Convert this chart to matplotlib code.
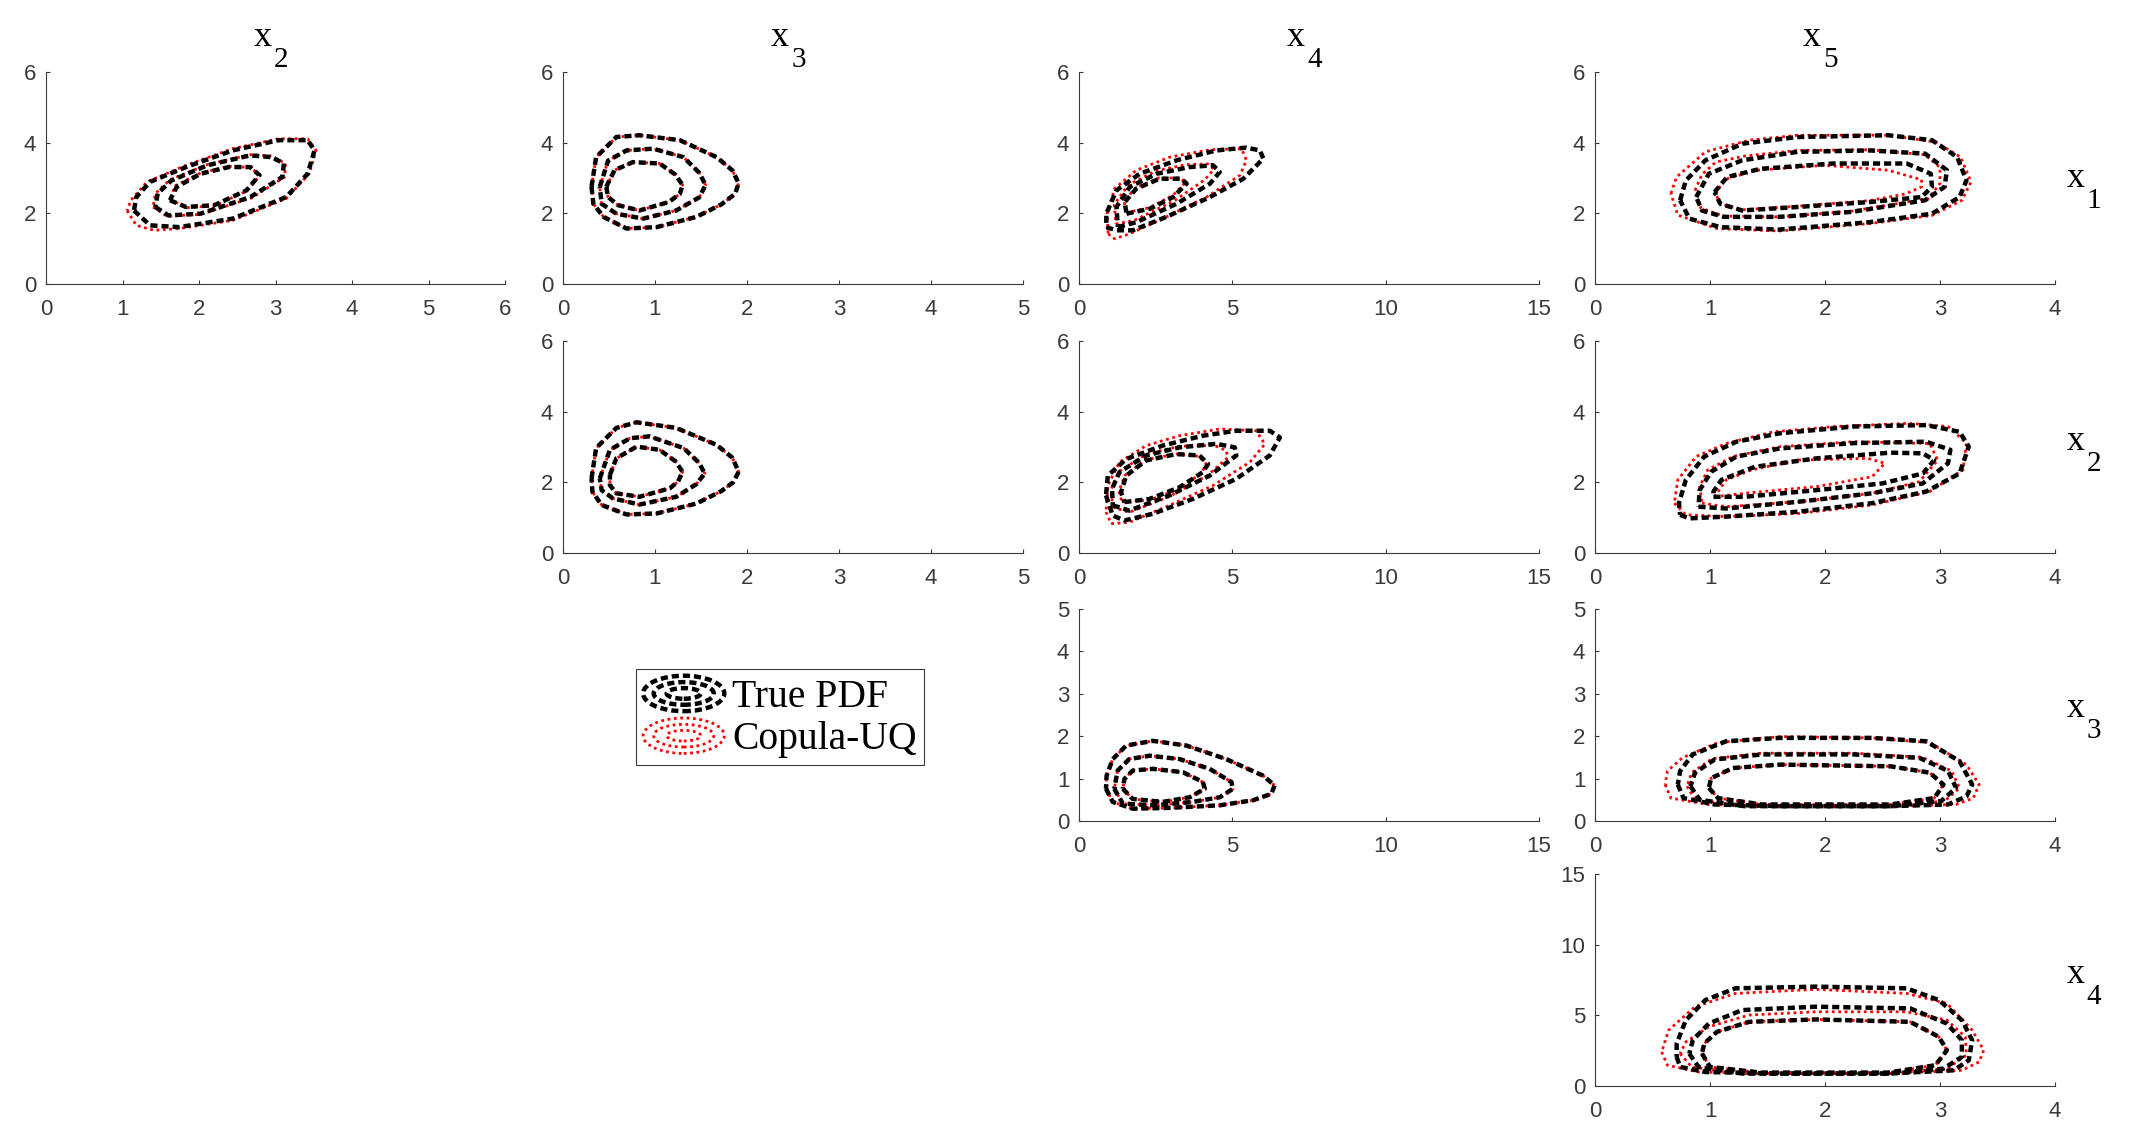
import matplotlib
matplotlib.use('Agg')
import matplotlib.pyplot as plt
from matplotlib.patches import Ellipse
from matplotlib.lines import Line2D
from matplotlib.legend_handler import HandlerBase
import numpy as np

W, H = 2132, 1146

# variable names of the grid
col_names = ['2', '3', '4', '5']
row_names = ['1', '2', '3', '4']

# axis ranges
col_xmax = [6, 5, 15, 4]
col_xstep = [1, 1, 5, 1]
row_ymax = [6, 6, 5, 15]
row_ystep = [2, 2, 1, 5]

# contour rings (outer, middle, inner), as (x, y) points
# row x1 / col x2
x1_x2_true = [
    [(1.15, 2.08), (1.36, 1.66), (1.74, 1.61), (2.44, 1.85), (3.14, 2.46), (3.42, 3.12), (3.51, 3.78),
     (3.42, 4.07), (3.04, 4.07), (2.44, 3.78), (1.83, 3.31), (1.36, 2.89), (1.18, 2.46)],
    [(1.43, 2.18), (1.60, 1.94), (2.02, 1.99), (2.67, 2.46), (3.09, 3.03), (3.11, 3.41), (2.95, 3.59),
     (2.67, 3.64), (2.11, 3.36), (1.64, 2.93), (1.46, 2.56)],
    [(1.62, 2.37), (1.83, 2.18), (2.20, 2.23), (2.62, 2.65), (2.79, 3.08), (2.67, 3.31), (2.39, 3.31),
     (2.02, 3.12), (1.71, 2.75)],
]
x1_x2_copula = [
    [(1.06, 2.08), (1.18, 1.66), (1.41, 1.52), (1.74, 1.57), (2.44, 1.80), (3.14, 2.42), (3.44, 3.12),
     (3.53, 3.78), (3.42, 4.11), (3.04, 4.11), (2.44, 3.83), (1.83, 3.36), (1.32, 2.89), (1.11, 2.37)],
    [(1.40, 2.18), (1.58, 1.92), (2.02, 1.97), (2.69, 2.44), (3.12, 3.03), (3.13, 3.41), (2.95, 3.62),
     (2.67, 3.66), (2.11, 3.38), (1.62, 2.95), (1.43, 2.56)],
    [(1.62, 2.40), (1.83, 2.16), (2.20, 2.21), (2.62, 2.63), (2.80, 3.08), (2.67, 3.30), (2.39, 3.33),
     (2.02, 3.14), (1.69, 2.78)],
]

# row x1 / col x3
x1_x3_true = [
    [(0.31, 2.75), (0.36, 3.59), (0.58, 4.16), (0.83, 4.21), (1.27, 4.07), (1.67, 3.59), (1.84, 3.22),
     (1.91, 2.85), (1.87, 2.55), (1.72, 2.25), (1.45, 1.90), (1.02, 1.61), (0.69, 1.57), (0.44, 1.90),
     (0.33, 2.27)],
    [(0.40, 2.75), (0.49, 3.49), (0.69, 3.78), (0.98, 3.83), (1.31, 3.59), (1.48, 3.15), (1.55, 2.80),
     (1.48, 2.45), (1.23, 2.08), (0.87, 1.85), (0.58, 1.99), (0.42, 2.27)],
    [(0.47, 2.75), (0.56, 3.22), (0.76, 3.45), (1.05, 3.41), (1.22, 3.10), (1.30, 2.80), (1.27, 2.55),
     (1.15, 2.32), (0.83, 2.08), (0.60, 2.23), (0.49, 2.46)],
]
x1_x3_copula = x1_x3_true

# row x1 / col x4
x1_x4_true = [
    [(0.89, 1.61), (1.22, 1.52), (1.76, 1.52), (2.85, 1.90), (4.27, 2.46), (5.36, 2.98), (6.01, 3.55),
     (5.90, 3.78), (5.46, 3.86), (4.48, 3.78), (3.18, 3.50), (1.98, 3.12), (1.22, 2.65), (0.89, 1.99)],
    [(1.27, 1.61), (1.87, 1.75), (3.18, 2.27), (4.27, 2.84), (4.59, 3.17), (4.37, 3.36), (3.61, 3.31),
     (2.53, 3.12), (1.66, 2.75), (1.22, 2.18)],
    [(1.55, 1.99), (2.31, 2.13), (3.07, 2.46), (3.51, 2.84), (3.34, 2.98), (2.63, 2.98), (1.87, 2.70),
     (1.49, 2.32)],
]
x1_x4_copula = [
    [(0.95, 1.42), (1.16, 1.28), (1.65, 1.42), (2.85, 1.90), (4.16, 2.46), (5.25, 3.08), (5.46, 3.50),
     (5.30, 3.83), (4.27, 3.80), (2.96, 3.59), (1.87, 3.22), (1.16, 2.70), (0.92, 1.99)],
    [(1.20, 1.70), (1.80, 1.80), (3.10, 2.35), (4.10, 2.95), (4.40, 3.25), (4.20, 3.40), (3.50, 3.38),
     (2.50, 3.20), (1.60, 2.80), (1.15, 2.25)],
    [(1.55, 2.02), (2.30, 2.16), (3.05, 2.50), (3.48, 2.88), (3.30, 3.00), (2.60, 3.00), (1.85, 2.72),
     (1.47, 2.35)],
]

# row x1 / col x5
x1_x5_true = [
    [(0.74, 2.37), (0.79, 2.93), (0.96, 3.50), (1.28, 3.97), (1.76, 4.16), (2.55, 4.21), (2.93, 4.07),
     (3.15, 3.59), (3.23, 2.93), (3.17, 2.46), (2.93, 1.99), (2.39, 1.75), (1.60, 1.54), (1.09, 1.61),
     (0.82, 1.85)],
    [(0.88, 2.46), (0.99, 3.12), (1.28, 3.50), (1.76, 3.74), (2.39, 3.78), (2.87, 3.69), (3.06, 3.22),
     (3.04, 2.75), (2.87, 2.37), (2.23, 2.04), (1.60, 1.90), (1.12, 1.90), (0.93, 2.08)],
    [(1.04, 2.60), (1.15, 3.03), (1.44, 3.26), (2.07, 3.41), (2.71, 3.41), (2.92, 3.12), (2.93, 2.75),
     (2.84, 2.46), (2.39, 2.32), (1.76, 2.18), (1.28, 2.08), (1.09, 2.27)],
]
x1_x5_copula = [
    [(0.66, 2.56), (0.71, 3.03), (0.96, 3.74), (1.34, 4.07), (1.76, 4.21), (2.55, 4.21), (2.96, 4.02),
     (3.18, 3.59), (3.27, 2.89), (3.19, 2.37), (2.93, 1.94), (2.39, 1.71), (1.60, 1.50), (1.06, 1.57),
     (0.72, 1.95)],
    [(0.87, 2.65), (0.93, 3.10), (1.05, 3.45), (1.30, 3.62), (1.76, 3.78), (2.39, 3.80), (2.87, 3.66),
     (3.00, 3.30), (3.00, 2.85), (2.90, 2.42), (2.23, 2.06), (1.60, 1.90), (1.12, 1.92), (0.92, 2.15)],
    [(1.05, 2.55), (1.12, 2.95), (1.40, 3.22), (2.00, 3.36), (2.55, 3.22), (2.84, 2.95), (2.84, 2.75),
     (2.70, 2.55), (2.39, 2.36), (1.76, 2.20), (1.28, 2.10), (1.09, 2.27)],
]

# row x2 / col x3
x2_x3_true = [
    [(0.31, 2.11), (0.36, 2.97), (0.58, 3.54), (0.80, 3.70), (1.23, 3.54), (1.67, 3.06), (1.84, 2.70),
     (1.91, 2.30), (1.85, 2.00), (1.72, 1.75), (1.45, 1.40), (1.02, 1.12), (0.69, 1.09), (0.42, 1.36),
     (0.32, 1.73)],
    [(0.40, 2.11), (0.51, 2.92), (0.73, 3.25), (0.94, 3.30), (1.31, 2.97), (1.48, 2.55), (1.54, 2.25),
     (1.45, 1.95), (1.23, 1.59), (0.83, 1.37), (0.54, 1.55), (0.42, 1.78)],
    [(0.51, 2.21), (0.58, 2.68), (0.80, 3.01), (1.05, 2.92), (1.22, 2.60), (1.30, 2.30), (1.25, 2.02),
     (1.16, 1.83), (0.83, 1.59), (0.58, 1.69), (0.51, 1.92)],
]
x2_x3_copula = x2_x3_true

# row x2 / col x4
x2_x4_true = [
    [(0.88, 1.63), (1.10, 1.06), (1.48, 0.92), (2.41, 1.11), (3.71, 1.53), (5.13, 2.10), (6.22, 2.76),
     (6.55, 3.27), (6.22, 3.46), (5.13, 3.46), (4.04, 3.32), (2.73, 3.04), (1.54, 2.66), (0.94, 2.19)],
    [(1.10, 1.35), (1.64, 1.20), (2.95, 1.63), (4.26, 2.19), (5.13, 2.76), (5.08, 2.99), (4.48, 3.09),
     (3.28, 2.99), (2.19, 2.76), (1.32, 2.29), (1.08, 1.82)],
    [(1.48, 1.44), (2.30, 1.53), (3.28, 1.86), (4.04, 2.29), (4.21, 2.52), (3.93, 2.76), (3.17, 2.80),
     (2.19, 2.62), (1.54, 2.19), (1.37, 1.72)],
]
x2_x4_copula = [
    [(0.88, 1.16), (1.05, 0.83), (1.64, 0.87), (2.95, 1.35), (4.37, 1.91), (5.57, 2.57), (6.06, 3.08),
     (5.78, 3.46), (4.59, 3.51), (3.28, 3.32), (2.19, 3.04), (1.32, 2.57), (0.94, 1.91)],
    [(1.10, 1.30), (1.64, 1.15), (2.95, 1.60), (4.20, 2.20), (4.85, 2.70), (4.80, 2.90), (4.40, 3.05),
     (3.28, 3.02), (2.19, 2.80), (1.30, 2.30), (1.05, 1.80)],
    [(1.40, 1.45), (2.30, 1.50), (3.28, 1.82), (4.00, 2.27), (4.15, 2.52), (3.90, 2.74), (3.17, 2.80),
     (2.19, 2.64), (1.50, 2.20), (1.30, 1.75)],
]

# row x2 / col x5
x2_x5_true = [
    [(0.74, 1.08), (0.82, 0.98), (1.14, 1.03), (1.77, 1.17), (2.41, 1.41), (2.88, 1.74), (3.17, 2.25),
     (3.25, 3.01), (3.17, 3.43), (2.88, 3.62), (2.25, 3.58), (1.61, 3.39), (1.23, 3.15), (0.95, 2.73),
     (0.79, 2.07), (0.73, 1.41)],
    [(0.90, 1.31), (1.14, 1.26), (1.77, 1.45), (2.41, 1.69), (2.85, 1.97), (3.07, 2.54), (3.09, 2.92),
     (2.88, 3.15), (2.25, 3.11), (1.61, 2.96), (1.23, 2.73), (1.01, 2.30), (0.91, 1.78)],
    [(1.03, 1.59), (1.30, 1.59), (1.93, 1.78), (2.50, 1.97), (2.85, 2.25), (2.95, 2.63), (2.85, 2.82),
     (2.57, 2.84), (1.93, 2.68), (1.39, 2.44), (1.10, 2.07), (1.03, 1.74)],
]
x2_x5_copula = [
    [(0.69, 1.41), (0.79, 1.08), (1.14, 1.03), (1.77, 1.12), (2.41, 1.36), (2.91, 1.74), (3.20, 2.35),
     (3.23, 3.11), (3.07, 3.58), (2.73, 3.67), (2.09, 3.58), (1.55, 3.43), (1.14, 3.10), (0.88, 2.73),
     (0.72, 2.07)],
    [(0.93, 1.41), (1.14, 1.31), (1.77, 1.45), (2.41, 1.69), (2.82, 2.02), (2.98, 2.63), (2.91, 3.10),
     (2.25, 3.15), (1.61, 3.01), (1.20, 2.73), (0.98, 2.35), (0.91, 1.88)],
    [(1.04, 1.59), (1.30, 1.69), (1.93, 1.88), (2.41, 2.16), (2.52, 2.54), (2.37, 2.68), (1.77, 2.63),
     (1.36, 2.35), (1.14, 2.07)],
]

# row x3 / col x4
x3_x4_true = [
    [(0.88, 0.76), (1.10, 0.45), (1.75, 0.29), (2.95, 0.31), (4.59, 0.37), (5.68, 0.49), (6.27, 0.64),
     (6.38, 0.84), (6.00, 1.07), (4.80, 1.46), (3.50, 1.78), (2.41, 1.89), (1.54, 1.78), (1.10, 1.46),
     (0.90, 1.07)],
    [(1.15, 0.76), (1.43, 0.41), (2.41, 0.37), (3.71, 0.45), (4.59, 0.56), (5.02, 0.76), (4.97, 0.92),
     (4.26, 1.23), (3.28, 1.46), (2.30, 1.54), (1.64, 1.46), (1.26, 1.19)],
    [(1.43, 0.76), (1.75, 0.52), (2.73, 0.45), (3.61, 0.56), (4.10, 0.76), (4.04, 0.92), (3.39, 1.15),
     (2.41, 1.23), (1.75, 1.19), (1.48, 0.99)],
]
x3_x4_copula = x3_x4_true

# row x3 / col x5
x3_x5_true = [
    [(0.72, 0.86), (0.77, 0.54), (1.04, 0.39), (1.61, 0.35), (2.57, 0.35), (3.07, 0.39), (3.23, 0.58),
     (3.28, 0.86), (3.17, 1.41), (2.88, 1.88), (2.41, 1.96), (1.61, 1.96), (1.14, 1.88), (0.85, 1.57),
     (0.74, 1.18)],
    [(0.83, 0.82), (0.91, 0.50), (1.30, 0.35), (2.57, 0.35), (3.01, 0.47), (3.14, 0.78), (3.07, 1.18),
     (2.82, 1.49), (2.25, 1.57), (1.45, 1.57), (1.04, 1.45), (0.87, 1.14)],
    [(0.99, 0.78), (1.07, 0.54), (1.45, 0.39), (2.57, 0.39), (2.95, 0.54), (3.03, 0.86), (2.91, 1.14),
     (2.57, 1.29), (1.61, 1.33), (1.20, 1.25), (1.01, 1.01)],
]
x3_x5_copula = [
    [(0.61, 0.86), (0.66, 0.54), (0.98, 0.39), (1.61, 0.35), (2.57, 0.35), (3.14, 0.39), (3.29, 0.54),
     (3.34, 0.86), (3.23, 1.33), (2.91, 1.85), (2.41, 1.96), (1.61, 1.99), (1.07, 1.85), (0.76, 1.49),
     (0.63, 1.18)],
    [(0.80, 0.82), (0.87, 0.50), (1.30, 0.35), (2.57, 0.35), (3.04, 0.47), (3.17, 0.78), (3.10, 1.18),
     (2.85, 1.50), (2.25, 1.60), (1.45, 1.60), (1.02, 1.47), (0.84, 1.14)],
    x3_x5_true[2],
]

# row x4 / col x5
x4_x5_true = [
    [(0.71, 2.06), (0.74, 1.35), (0.96, 0.99), (1.60, 0.88), (2.55, 0.88), (3.12, 1.11), (3.25, 1.82),
     (3.28, 3.24), (3.19, 4.66), (2.99, 6.08), (2.71, 6.91), (1.92, 7.03), (1.22, 6.91), (0.96, 6.08),
     (0.79, 4.66), (0.71, 3.00)],
    [(0.82, 2.29), (0.90, 1.35), (1.28, 0.88), (2.55, 0.88), (3.03, 1.23), (3.19, 2.06), (3.19, 3.24),
     (3.06, 4.42), (2.74, 5.49), (1.92, 5.61), (1.28, 5.37), (0.99, 4.42), (0.85, 3.24)],
    [(0.93, 2.29), (1.00, 1.35), (1.44, 0.95), (2.55, 0.95), (2.96, 1.47), (3.06, 2.53), (2.99, 3.48),
     (2.74, 4.54), (1.92, 4.71), (1.34, 4.54), (1.06, 3.83), (0.95, 3.00)],
]
x4_x5_copula = [
    [(0.58, 2.41), (0.63, 1.47), (0.90, 0.99), (1.60, 0.88), (2.55, 0.88), (3.19, 1.11), (3.34, 1.70),
     (3.38, 2.53), (3.28, 3.95), (3.06, 5.84), (2.71, 6.55), (1.92, 6.84), (1.22, 6.55), (0.87, 5.61),
     (0.64, 3.95)],
    [(0.74, 2.29), (0.84, 1.35), (1.28, 0.88), (2.55, 0.88), (3.06, 1.23), (3.23, 2.18), (3.22, 3.48),
     (3.06, 4.66), (2.71, 5.25), (1.92, 5.25), (1.34, 5.02), (0.99, 4.19), (0.79, 3.12)],
    x4_x5_true[2],
]

panels = {
    (0, 0): (x1_x2_true, x1_x2_copula),
    (0, 1): (x1_x3_true, x1_x3_copula),
    (0, 2): (x1_x4_true, x1_x4_copula),
    (0, 3): (x1_x5_true, x1_x5_copula),
    (1, 1): (x2_x3_true, x2_x3_copula),
    (1, 2): (x2_x4_true, x2_x4_copula),
    (1, 3): (x2_x5_true, x2_x5_copula),
    (2, 2): (x3_x4_true, x3_x4_copula),
    (2, 3): (x3_x5_true, x3_x5_copula),
    (3, 3): (x4_x5_true, x4_x5_copula),
}

# axes boxes in pixels
col_px = [(46, 505), (563, 1023), (1079, 1539), (1595, 2055)]
row_px = [(72, 284), (341, 553), (609, 821), (874, 1086)]
# baseline of the row label below the axes middle, in points
row_label_drop = [6.5, 2.5, 1.5, 2.5]

TRUE_STYLE = dict(color='black', lw=3.2, dashes=(1.6, 0.9))
COP_STYLE = dict(color='red', lw=2.0, dashes=(1.0, 1.3))
AX_COLOR = '#3a3a3a'
SERIF = 'Liberation Serif'

plt.rcParams['font.family'] = ['Liberation Sans', 'DejaVu Sans']

fig = plt.figure(figsize=(W / 100, H / 100), dpi=100)


def closed(ring):
    xs = [p[0] for p in ring] + [ring[0][0]]
    ys = [p[1] for p in ring] + [ring[0][1]]
    return xs, ys


def var_label(ax, xy, dx, dy, sub, sub_dx):
    # "x" with a big, low subscript (MATLAB style)
    ax.annotate('x', xy=xy, xycoords='axes fraction', xytext=(dx, dy),
                textcoords='offset points', family=SERIF, fontsize=26,
                ha='left', va='baseline', annotation_clip=False)
    ax.annotate(sub, xy=xy, xycoords='axes fraction', xytext=(dx + sub_dx, dy - 15),
                textcoords='offset points', family=SERIF, fontsize=21,
                ha='left', va='baseline', annotation_clip=False)


for (r, c), (true_rings, cop_rings) in panels.items():
    left, right = col_px[c]
    top, bottom = row_px[r]
    ax = fig.add_axes([left / W, 1 - bottom / H, (right - left) / W, (bottom - top) / H])
    for ring in cop_rings:
        xs, ys = closed(ring)
        ax.plot(xs, ys, **COP_STYLE)
    for ring in true_rings:
        xs, ys = closed(ring)
        ax.plot(xs, ys, **TRUE_STYLE)
    ax.set_xlim(0, col_xmax[c])
    ax.set_ylim(0, row_ymax[r])
    ax.set_xticks(np.arange(0, col_xmax[c] + 1, col_xstep[c]))
    ax.set_yticks(np.arange(0, row_ymax[r] + 1, row_ystep[r]))
    for s in ['top', 'right']:
        ax.spines[s].set_visible(False)
    for s in ['left', 'bottom']:
        ax.spines[s].set_color(AX_COLOR)
        ax.spines[s].set_linewidth(0.8)
    ax.tick_params(direction='in', length=3, width=0.8, colors=AX_COLOR, labelsize=16)
    ax.tick_params(axis='x', pad=10.5)
    ax.tick_params(axis='y', pad=7)
    if r == 0:
        var_label(ax, (0.5, 1.0), -16, 18.5, col_names[c], 15)
    if c == 3:
        var_label(ax, (1.0, 0.5), 8.6, -row_label_drop[r], row_names[r], 14)


class RingHandler(HandlerBase):
    def __init__(self, style):
        super().__init__()
        self.style = style

    def create_artists(self, legend, orig_handle, xdescent, ydescent, width, height, fontsize, trans):
        cx = width / 2 - xdescent
        cy = height / 2 - ydescent
        arts = []
        for sw, sh in [(1.0, 1.0), (0.74, 0.64), (0.42, 0.3)]:
            e = Ellipse((cx, cy), width * sw, height * sh, transform=trans, fill=False,
                        edgecolor=self.style['color'], lw=self.style['lw'],
                        linestyle=(0, self.style['dashes']))
            arts.append(e)
        return arts


h_true = Line2D([], [], color='black')
h_cop = Line2D([], [], color='red')
leg = fig.legend([h_true, h_cop], ['True PDF', 'Copula-UQ'],
                 handler_map={h_true: RingHandler(TRUE_STYLE), h_cop: RingHandler(COP_STYLE)},
                 loc='center', bbox_to_anchor=((638 + 922) / 2 / W, 1 - (672 + 762) / 2 / H),
                 prop={'family': SERIF, 'size': 28.5},
                 fancybox=False, framealpha=1, edgecolor=AX_COLOR,
                 borderpad=0.18, labelspacing=0.05, handlelength=2.05, handleheight=1.0,
                 handletextpad=0.2, borderaxespad=0)
leg.get_frame().set_linewidth(0.8)

fig.savefig('out.png', dpi=100)
